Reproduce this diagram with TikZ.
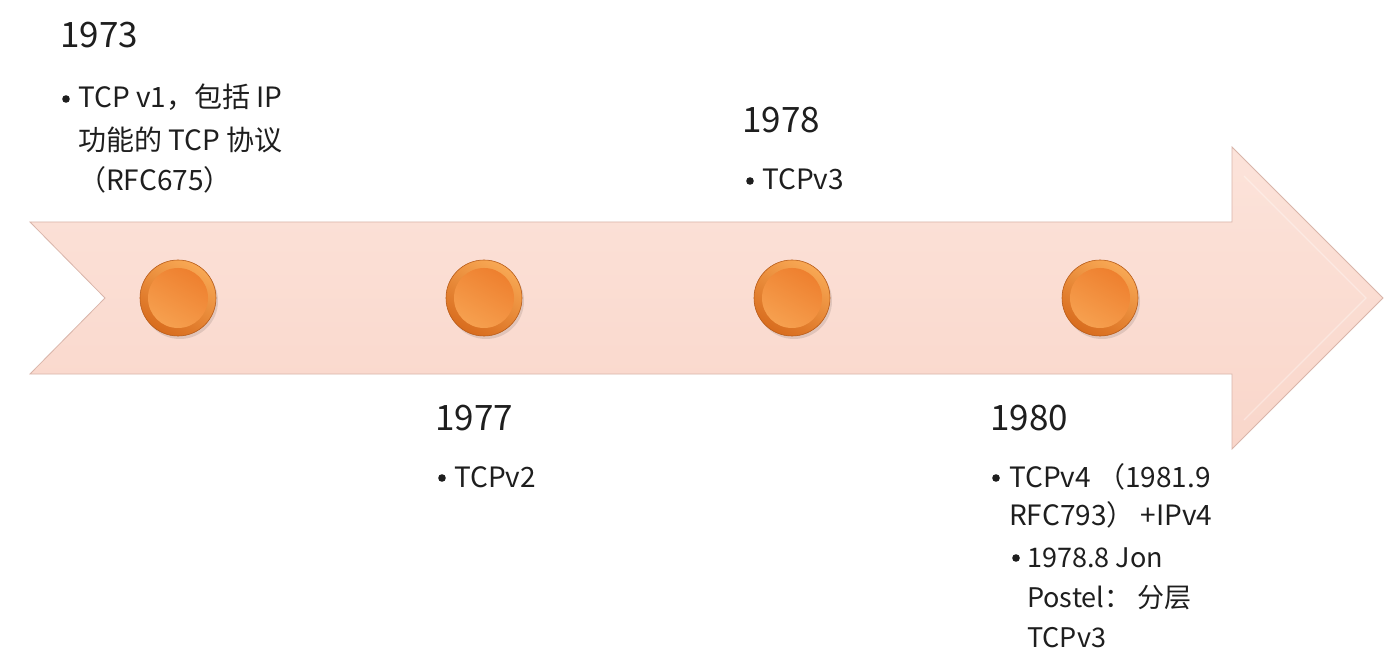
\documentclass[tikz,border=0pt]{standalone}
\usepackage{fontspec}
\usetikzlibrary{calc}
\setmainfont{Noto Sans CJK SC}
\definecolor{arrowtop}{HTML}{FCE3DA}
\definecolor{arrowbot}{HTML}{F9D6CA}
\definecolor{arrowedge}{HTML}{D9B5AA}
\definecolor{rimlight}{HTML}{F8A854}
\definecolor{rimdark}{HTML}{D86C1E}
\definecolor{disclight}{HTML}{F6A04F}
\definecolor{discdark}{HTML}{EE802F}
\definecolor{txt}{HTML}{1E1E1E}
\begin{document}
\begin{tikzpicture}[x=1pt,y=-1pt,
  yr/.style={font=\fontsize{35}{40}\selectfont, text=txt, anchor=base west, inner sep=0pt},
  bl/.style={font=\fontsize{28}{30}\selectfont, text=txt, anchor=base west, inner sep=0pt},
  sb/.style={font=\fontsize{27}{30}\selectfont, text=txt, anchor=base west, inner sep=0pt},
  dot/.style={fill=txt, draw=none},
  rim/.style={draw=rimdark!85!black, line width=0.6pt, shading=axis, top color=rimlight, bottom color=rimdark, shading angle=-30},
  disc/.style={draw=none, shading=axis, top color=discdark, bottom color=disclight, shading angle=-30}]
\useasboundingbox[fill=white] (0,0) rectangle (1400,652);
% arrow
\path[top color=arrowtop, bottom color=arrowbot, draw=arrowedge, line width=0.8pt]
  (30,222) -- (1232,222) -- (1232,147) -- (1383,298) -- (1232,449) -- (1232,374) -- (30,374) -- (105,298) -- cycle;
\draw[white, opacity=0.35, line width=1.2pt]
  (1244,176) -- (1366,298) -- (1244,420);
% circles
\foreach \n/\cx in {c1/178, c2/484, c3/792, c4/1100}{
  \coordinate (\n) at (\cx,298);
  \fill[black, opacity=0.10] ($(\n)+(2,3)$) circle (38);
  \path[rim] (\n) circle (38);
  \path[disc] (\n) circle (30);
}
% 1973
\node[yr] (y1) at (60,48) {1973};
\fill[dot] (66,99) circle (3.8);
\node[bl] (t1a) at (78,108) {TCP v1，包括 IP};
\node[bl] (t1b) at (78,151) {功能的 TCP 协议};
\node[bl] (t1c) at (78,191) {（RFC675）};
% 1977
\node[yr] (y2) at (435,430) {1977};
\fill[dot] (442,478) circle (3.8);
\node[bl] (t2a) at (454,487) {TCPv2};
% 1978
\node[yr] (y3) at (742,133) {1978};
\fill[dot] (750,181) circle (3.8);
\node[bl] (t3a) at (762,190) {TCPv3};
% 1980
\node[yr] (y4) at (990,430) {1980};
\fill[dot] (996,478) circle (3.8);
\node[bl] (t4a) at (1009,487) {TCPv4 （1981.9};
\node[bl] (t4b) at (1009,525) {RFC793） +IPv4};
\fill[dot] (1016,558) circle (3.8);
\node[sb] (t4c) at (1027,567) {1978.8 Jon};
\node[sb] (t4d) at (1027,607) {Postel： 分层};
\node[sb] (t4e) at (1027,647) {TCPv3};
\end{tikzpicture}
\end{document}
